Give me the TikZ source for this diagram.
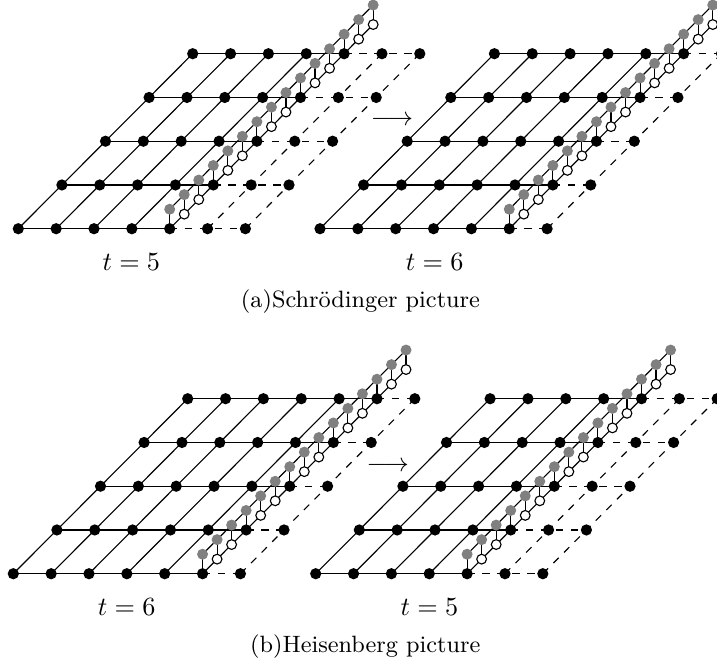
\documentclass[tikz,border=0pt]{standalone}
\usepackage{fontspec}
\setmainfont{Latin Modern Roman}
\colorlet{greydot}{black!50}
\tikzset{
  lat/.style={line width=0.45pt},
  latdash/.style={line width=0.45pt, dashed},
  bdot/.style={circle, fill=black, inner sep=0pt, minimum size=4.5pt},
  wdot/.style={circle, draw=black, fill=white, line width=0.45pt, inner sep=0pt, minimum size=3.9pt},
  gdot/.style={circle, fill=greydot, inner sep=0pt, minimum size=4.4pt},
  lab/.style={font=\fontsize{10}{12}\selectfont, scale=1.05, inner sep=0pt, anchor=base},
  captext/.style={font=\fontsize{9.45}{11}\selectfont, inner sep=0pt, anchor=base},
}
\newcommand{\latpanel}[4]{% name, x0, y0, k (ladder column)
  \pgfmathtruncatemacro{\km}{#4-1}
  \pgfmathtruncatemacro{\kp}{#4+1}
  \foreach \cc in {0,...,6}{\foreach \rr in {0,...,4}{
    \coordinate (#1-\cc-\rr) at ({#2+37.85*\cc+43.6*\rr},{#3-43.75*\rr});}}
  \foreach \jj in {0,...,14}{
    \coordinate (#1-L\jj) at ({#2+37.85*#4+43.6*\jj/3},{#3-43.75*\jj/3});
    \coordinate (#1-G\jj) at ({#2+37.85*#4+43.6*\jj/3},{#3-43.75*\jj/3-19.5});}
  % horizontal lines
  \foreach \rr in {0,...,4}{
    \draw[lat] (#1-0-\rr) -- (#1-#4-\rr);
    \draw[latdash] (#1-#4-\rr) -- (#1-6-\rr);}
  % diagonal lines
  \foreach \cc in {0,...,\km}{\draw[lat] (#1-\cc-0) -- (#1-\cc-4);}
  \foreach \cc in {\kp,...,6}{\draw[latdash] (#1-\cc-0) -- (#1-\cc-4);}
  \draw[lat] (#1-L0) -- (#1-L14);
  \draw[lat] (#1-G0) -- (#1-G14);
  \foreach \jj in {0,...,14}{\draw[lat] (#1-G\jj) -- (#1-L\jj);}
  % dots
  \foreach \cc in {0,...,6}{\foreach \rr in {0,...,4}{
    \node[bdot] (#1-\cc-\rr-d) at (#1-\cc-\rr) {};}}
  \foreach \jj in {1,2,4,5,7,8,10,11,13,14}{\node[wdot] (#1-L\jj-d) at (#1-L\jj) {};}
  \foreach \jj in {0,...,14}{\node[gdot] (#1-G\jj-d) at (#1-G\jj) {};}
}
\begin{document}
\begin{tikzpicture}[x=0.4pt,y=-0.4pt]
\useasboundingbox (0,0) rectangle (717,669);
\latpanel{a1}{18.3}{228.7}{4}
\latpanel{a2}{320}{228.7}{5}
\latpanel{b1}{13.3}{573.7}{5}
\latpanel{b2}{315.7}{573.7}{4}
\node[lab] (arra) at (392,125.6) {$\longrightarrow$};
\node[lab] (arrb) at (387.7,471.6) {$\longrightarrow$};
\node[lab] (ta1) at (131.3,270.7) {$t=5$};
\node[lab] (ta2) at (434.7,270.7) {$t=6$};
\node[captext] (capa) at (360.5,307.6) {(a)Schrödinger picture};
\node[lab] (tb1) at (126.7,615.7) {$t=6$};
\node[lab] (tb2) at (429.5,615.7) {$t=5$};
\node[captext] (capb) at (365.3,652.5) {(b)Heisenberg picture};
\end{tikzpicture}
\end{document}
